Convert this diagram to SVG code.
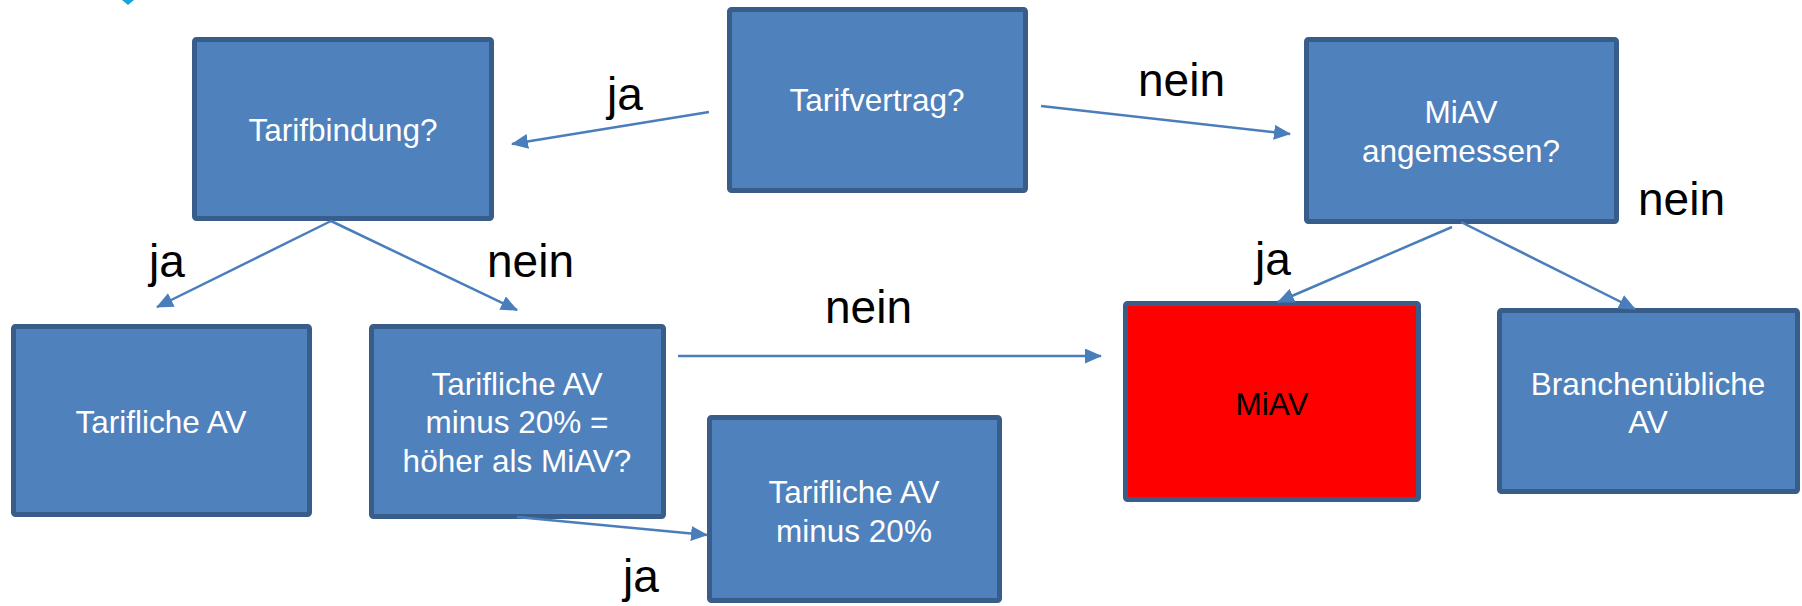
<svg xmlns="http://www.w3.org/2000/svg" width="1802" height="606" viewBox="0 0 1802 606">
  <style>
    .box { fill: #4f81bd; stroke: #385d8a; stroke-width: 5; }
    .red { fill: #ff0000; stroke: #385d8a; stroke-width: 5; }
    .t { font-family: "Liberation Sans", Arial, sans-serif; font-size: 31.5px; fill: #ffffff; text-anchor: middle; }
    .tb { font-family: "Liberation Sans", Arial, sans-serif; font-size: 31.5px; fill: #000000; text-anchor: middle; }
    .lbl { font-family: "Liberation Sans", Arial, sans-serif; font-size: 46px; fill: #000000; }
    .conn { stroke: #4a7ebb; stroke-width: 2.5; fill: none; marker-end: url(#arrow); }
  </style>
  <defs>
    <marker id="arrow" markerUnits="userSpaceOnUse" markerWidth="17" markerHeight="15" refX="16" refY="7.5" orient="auto">
      <path d="M0,0 L17,7.5 L0,15 Z" fill="#4a7ebb"/>
    </marker>
  </defs>
  <rect width="1802" height="606" fill="#ffffff"/>
  <polygon points="122,0 134,0 128,5" fill="#1aa3d8"/>

  <g id="labels">
    <text class="lbl" x="607" y="110">ja</text>
    <text class="lbl" x="1138" y="96">nein</text>
    <text class="lbl" x="1638" y="215">nein</text>
    <text class="lbl" x="149" y="277">ja</text>
    <text class="lbl" x="487" y="277">nein</text>
    <text class="lbl" x="825" y="323">nein</text>
    <text class="lbl" x="1255" y="275">ja</text>
    <text class="lbl" x="623" y="592">ja</text>
  </g>

  <g id="tarifbindung">
    <rect class="box" x="194.5" y="39.5" width="297" height="179" rx="2"/>
    <text class="t" x="343" y="141">Tarifbindung?</text>
  </g>
  <g id="tarifvertrag">
    <rect class="box" x="729.5" y="9.5" width="296" height="181" rx="2"/>
    <text class="t" x="877" y="111">Tarifvertrag?</text>
  </g>
  <g id="miav-angemessen">
    <rect class="box" x="1306.5" y="39.5" width="310" height="182" rx="2"/>
    <text class="t" x="1461" y="123">MiAV</text>
    <text class="t" x="1461" y="162">angemessen?</text>
  </g>
  <g id="tarifliche-av">
    <rect class="box" x="13.5" y="326.5" width="296" height="188" rx="2"/>
    <text class="t" x="161" y="433">Tarifliche AV</text>
  </g>
  <g id="tarifliche-av-minus-frage">
    <rect class="box" x="371.5" y="326.5" width="292" height="190" rx="2"/>
    <text class="t" x="517" y="395">Tarifliche AV</text>
    <text class="t" x="517" y="433">minus 20% =</text>
    <text class="t" x="517" y="472">höher als MiAV?</text>
  </g>
  <g id="tarifliche-av-minus">
    <rect class="box" x="709.5" y="417.5" width="290" height="183" rx="2"/>
    <text class="t" x="854" y="503">Tarifliche AV</text>
    <text class="t" x="854" y="542">minus 20%</text>
  </g>
  <g id="miav">
    <rect class="red" x="1125.5" y="303.5" width="293" height="196" rx="2"/>
    <text class="tb" x="1272" y="415">MiAV</text>
  </g>
  <g id="branchenuebliche-av">
    <rect class="box" x="1499.5" y="310.5" width="298" height="181" rx="2"/>
    <text class="t" x="1648" y="395">Branchenübliche</text>
    <text class="t" x="1648" y="433">AV</text>
  </g>

  <g id="connectors">
    <line class="conn" x1="709" y1="112" x2="512" y2="144"/>
    <line class="conn" x1="1041" y1="106" x2="1290" y2="134"/>
    <line class="conn" x1="331" y1="221" x2="157" y2="307"/>
    <line class="conn" x1="331" y1="221" x2="517" y2="310"/>
    <line class="conn" x1="678" y1="356" x2="1101" y2="356"/>
    <line class="conn" x1="517" y1="517" x2="707" y2="535"/>
    <line class="conn" x1="1452" y1="227" x2="1278" y2="302"/>
    <line class="conn" x1="1461" y1="222" x2="1635" y2="309"/>
  </g>
</svg>
